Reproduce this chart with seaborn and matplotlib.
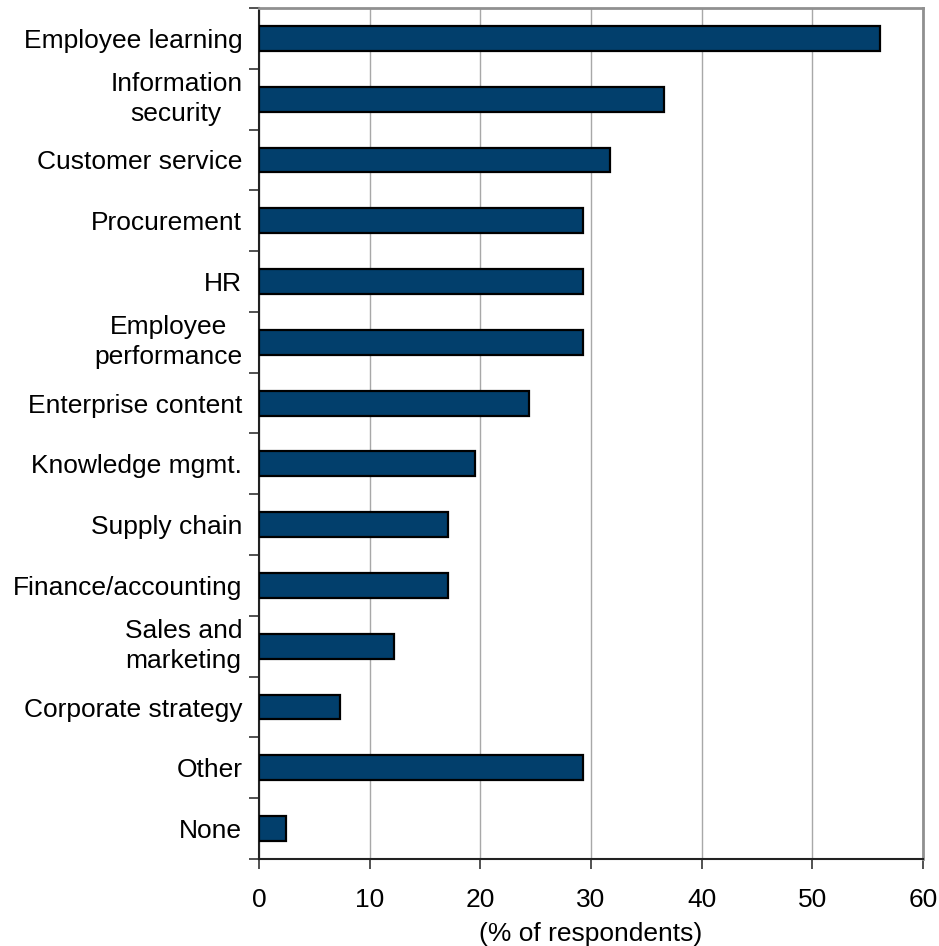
import matplotlib
matplotlib.use("Agg")
import matplotlib.pyplot as plt
import seaborn as sns
import pandas as pd
import numpy as np

categories = [
    "Employee learning",
    "Information\nsecurity",
    "Customer service",
    "Procurement",
    "HR",
    "Employee\nperformance",
    "Enterprise content",
    "Knowledge mgmt.",
    "Supply chain",
    "Finance/accounting",
    "Sales and\nmarketing",
    "Corporate strategy",
    "Other",
    "None",
]
values = [56.1, 36.6, 31.7, 29.3, 29.3, 29.3, 24.4, 19.5, 17.1, 17.1, 12.2, 7.3, 29.3, 2.4]
x_ticks = [0, 10, 20, 30, 40, 50, 60]
x_label = "(% of respondents)"

sns.set_theme(style="white")
plt.rcParams['font.family'] = ['Liberation Sans', 'DejaVu Sans']
plt.rcParams['text.color'] = 'black'
plt.rcParams['xtick.color'] = 'black'
plt.rcParams['ytick.color'] = 'black'
plt.rcParams['axes.labelcolor'] = 'black'

df = pd.DataFrame({"category": categories, "value": values})

fig = plt.figure(figsize=(9.39, 9.46), dpi=100)
ax = fig.add_axes([259/939, 1 - 859/946, (923-259)/939, (859-8)/946])

sns.barplot(data=df, x="value", y="category", orient="h", color="#023f6c",
            saturation=1, width=0.41, edgecolor="black", linewidth=1.6, ax=ax,
            zorder=3)

ax.set_xlim(0, 60)
ax.set_ylim(len(categories) - 0.5, -0.5)
ax.set_xticks(x_ticks)
ax.set_xticklabels([str(t) for t in x_ticks], fontsize=19)
ax.set_xlabel(x_label, fontsize=19, labelpad=7)
ax.set_ylabel("")

ax.set_yticks(np.arange(len(categories)))
ax.set_yticklabels(categories, fontsize=19, multialignment="center", linespacing=1.3)
for lbl in ax.get_yticklabels():
    if "\n" in lbl.get_text():
        lbl.set_verticalalignment("center")
ax.set_yticks(np.arange(-0.5, len(categories), 1.0), minor=True)
ax.tick_params(axis="y", which="major", length=0, pad=12)
ax.tick_params(axis="y", which="minor", length=7, width=1.2, color="#333333", direction="out", left=True)
ax.tick_params(axis="x", which="major", length=7, width=1.2, color="#333333", direction="out", bottom=True, pad=14)

ax.grid(axis="x", color="#a8a8a8", linewidth=1.0, zorder=0)
ax.grid(axis="y", visible=False)
ax.set_axisbelow(True)

for s in ["left", "bottom"]:
    ax.spines[s].set_color("#222222")
    ax.spines[s].set_linewidth(1.5)
for s in ["top", "right"]:
    ax.spines[s].set_color("#909090")
    ax.spines[s].set_linewidth(2.0)

fig.savefig("out.png", dpi=100)
